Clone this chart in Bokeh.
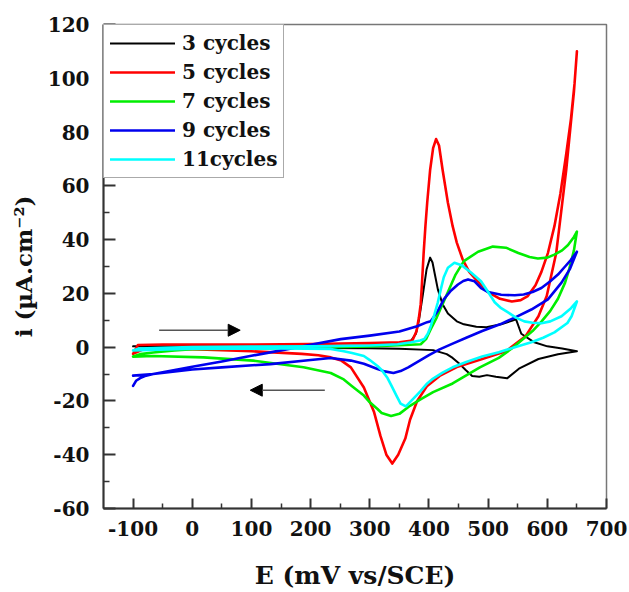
from bokeh.plotting import figure
from bokeh.models import Range1d, FixedTicker, Legend, LegendItem, Arrow, NormalHead
from bokeh.embed import file_html
from bokeh.resources import INLINE

FONT = "DejaVu Serif"

# Cyclic voltammograms: potential E (mV vs SCE) and current density i (uA/cm2)
# each loop = forward (anodic) sweep followed by the reverse sweep
labels = ["3 cycles", "5 cycles", "7 cycles", "9 cycles", "11cycles"]
colors = ["#000000", "#ff0000", "#00ee00", "#0000ee", "#00ffff"]

e3_fwd = [-100, 0, 100, 200, 300, 350, 369, 378, 383, 390, 396, 402, 406, 410, 415, 423, 432, 447, 459, 480, 497, 522, 540, 547, 556, 578, 600, 625, 650]
i3_fwd = [0.3, 0.3, 0.3, 0.4, 0.6, 1.2, 2.2, 5.0, 10.0, 20.0, 29.0, 33.3, 31.5, 27.0, 21.5, 16.0, 12.5, 9.6, 8.5, 7.6, 7.4, 8.5, 9.8, 10.4, 5.0, 1.8, 0.3, -0.5, -1.5]
e3_rev = [650, 618, 585, 552, 532, 513, 498, 485, 473, 462, 452, 440, 430, 407, 350, 300, 200, 100, 0, -100]
i3_rev = [-1.5, -2.6, -4.4, -8.0, -11.6, -11.0, -10.4, -11.0, -10.7, -8.5, -6.3, -4.0, -2.6, -1.1, -0.6, -0.4, -0.3, -0.3, -0.2, 0.3]

e5_fwd = [-100, -92, -50, 0, 100, 200, 300, 350, 372, 379, 383, 386, 388, 391, 394, 397, 402, 407, 412, 417, 423, 432, 440, 447, 457, 468, 480, 500, 520, 540, 555, 567, 580, 590, 601, 612, 622, 632, 640, 646, 650]
i5_fwd = [-2.5, 0.8, 1.0, 1.0, 1.0, 1.2, 1.5, 1.8, 2.5, 6.0, 11.0, 16.0, 23.0, 35.0, 45.0, 53.7, 66.0, 74.0, 77.4, 75.0, 66.0, 53.7, 45.0, 38.9, 32.6, 28.0, 25.0, 20.5, 18.0, 17.0, 17.5, 19.0, 23.0, 28.0, 35.0, 45.0, 57.0, 72.0, 85.0, 98.0, 110.0]
e5_rev = [650, 645, 632, 615, 599, 585, 563, 530, 490, 447, 418, 397, 380, 368, 360, 348, 338, 328, 318, 307, 290, 268, 252, 234, 213, 185, 100, 0, -80, -100]
i5_rev = [110.0, 95.0, 66.0, 35.0, 19.0, 11.5, 4.0, -1.5, -4.4, -7.4, -10.7, -14.4, -20.0, -27.0, -34.0, -40.0, -43.3, -40.0, -33.0, -24.0, -15.0, -7.5, -5.0, -3.8, -3.0, -2.5, -1.5, -0.8, -0.5, -2.5]

e7_fwd = [-100, -88, -66, -30, 0, 100, 200, 300, 360, 386, 395, 403, 413, 425, 435, 445, 459, 483, 508, 530, 551, 570, 584, 600, 612, 625, 635, 645, 650]
i7_fwd = [-3.5, -2.6, -2.0, -1.2, -0.8, -0.5, -0.2, 0.3, 0.8, 1.1, 3.0, 6.7, 11.0, 17.0, 22.0, 27.0, 32.0, 35.5, 37.4, 37.0, 35.0, 33.5, 33.0, 33.3, 34.4, 36.0, 38.0, 41.0, 43.0]
e7_rev = [650, 645, 637, 630, 618, 605, 590, 575, 559, 540, 518, 486, 463, 440, 407, 385, 368, 350, 336, 320, 313, 300, 290, 270, 256, 234, 188, 103, 19, -66, -100]
i7_rev = [43.0, 36.0, 29.0, 24.0, 18.0, 13.5, 9.5, 6.0, 3.0, -0.5, -4.0, -7.5, -10.5, -13.5, -16.7, -19.5, -21.8, -24.8, -25.6, -24.5, -23.0, -20.5, -18.0, -14.5, -12.0, -9.6, -7.5, -5.0, -3.8, -3.3, -3.5]

e9_fwd = [-100, -95, -88, -78, -66, 0, 50, 100, 150, 200, 251, 300, 350, 380, 397, 403, 415, 425, 437, 449, 458, 466, 477, 488, 500, 522, 545, 560, 575, 590, 605, 618, 630, 640, 650]
i9_fwd = [-14.4, -12.5, -11.5, -10.6, -10.0, -7.3, -5.3, -3.2, -1.2, 0.9, 3.0, 4.3, 5.8, 7.8, 9.3, 9.6, 13.5, 17.8, 21.0, 23.3, 24.6, 25.2, 24.5, 22.0, 20.5, 19.5, 19.3, 19.6, 20.5, 22.0, 24.5, 27.0, 30.0, 32.5, 35.5]
e9_rev = [650, 638, 624, 601, 573, 545, 520, 490, 463, 440, 418, 400, 380, 365, 352, 340, 325, 313, 290, 268, 234, 200, 132, 50, 0, -66, -100]
i9_rev = [35.5, 29.0, 24.0, 17.8, 14.0, 11.0, 8.5, 6.0, 3.5, 1.3, -0.8, -3.0, -5.6, -7.5, -8.9, -9.6, -9.0, -8.1, -6.2, -5.0, -4.0, -4.8, -6.3, -7.5, -8.3, -10.0, -10.6]

e11_fwd = [-100, -90, -50, 0, 100, 200, 300, 347, 370, 385, 392, 398, 403, 409, 415, 420, 425, 432, 443, 455, 471, 488, 500, 511, 522, 533, 547, 561, 575, 590, 605, 624, 640, 650]
i11_fwd = [-1.2, -0.5, -0.2, 0.0, 0.2, 0.3, 0.6, 1.1, 1.8, 2.5, 3.0, 5.0, 7.8, 12.0, 16.7, 21.5, 26.0, 29.5, 31.4, 30.5, 27.8, 24.5, 20.5, 16.7, 14.5, 13.0, 11.0, 9.6, 9.1, 8.9, 9.6, 11.5, 14.5, 17.0]
e11_rev = [650, 641, 634, 612, 593, 573, 545, 518, 490, 463, 440, 423, 405, 397, 385, 370, 361, 352, 345, 337, 330, 320, 313, 300, 290, 270, 256, 234, 150, 0, -100]
i11_rev = [17.0, 11.5, 9.0, 5.5, 3.5, 1.8, 0.0, -1.9, -3.5, -5.5, -7.5, -9.5, -12.0, -13.5, -16.5, -20.0, -22.0, -21.0, -18.0, -14.5, -11.5, -8.5, -7.0, -4.8, -3.3, -2.2, -1.5, -0.7, -0.5, -0.6, -1.2]

# axis ticks
x_ticks = [-100, 0, 100, 200, 300, 400, 500, 600, 700]
x_tick_labels = ["-100", "0", "100", "200", "300", "400", "500", "600", "700"]
x_minor = [-50, 50, 150, 250, 350, 450, 550, 650]
y_ticks = [-60, -40, -20, 0, 20, 40, 60, 80, 100, 120]
y_tick_labels = ["-60", "-40", "-20", "0", "20", "40", "60", "80", "100", "120"]
y_minor = [-50, -30, -10, 10, 30, 50, 70, 90, 110]

# sweep-direction arrows (data units): start E, end E, i
fwd_arrow = [-56, 81, 6.3]
rev_arrow = [224, 98, -16.0]

loops = [
    (e3_fwd + e3_rev, i3_fwd + i3_rev),
    (e5_fwd + e5_rev, i5_fwd + i5_rev),
    (e7_fwd + e7_rev, i7_fwd + i7_rev),
    (e9_fwd + e9_rev, i9_fwd + i9_rev),
    (e11_fwd + e11_rev, i11_fwd + i11_rev),
]

p = figure(width=629, height=592, x_range=Range1d(-150, 700), y_range=Range1d(-60, 120),
           output_backend="svg", toolbar_location=None,
           min_border_left=103, min_border_right=23, min_border_top=24, min_border_bottom=82)
p.grid.visible = False
p.outline_line_color = "#777777"
p.outline_line_width = 1.5
p.background_fill_color = "white"

renderers = []
for (ex, iy), col in zip(loops, colors):
    r = p.line(ex, iy, line_color=col, line_width=2 if col == "#000000" else 2.6,
               line_join="round", line_cap="round")
    renderers.append(r)

for ax in (p.xaxis[0], p.yaxis[0]):
    ax.axis_line_color = "#333333"
    ax.axis_line_width = 2
    ax.major_tick_line_color = "#333333"
    ax.minor_tick_line_color = "#333333"
    ax.major_tick_line_width = 2
    ax.minor_tick_line_width = 1.5
    ax.major_tick_out = 0
    ax.minor_tick_out = 0
    ax.major_label_text_font = FONT
    ax.major_label_text_font_style = "bold"
    ax.major_label_text_font_size = "20px"
    ax.major_label_text_color = "#111111"
    ax.axis_label_text_font = FONT
    ax.axis_label_text_font_style = "bold"
    ax.axis_label_text_color = "#111111"

p.xaxis.ticker = FixedTicker(ticks=x_ticks, minor_ticks=x_minor)
p.xaxis.major_label_overrides = dict(zip(x_ticks, x_tick_labels))
p.xaxis.major_tick_in = 10
p.xaxis.minor_tick_in = 5
p.xaxis.major_label_standoff = 12
p.xaxis.axis_label = "E (mV vs/SCE)"
p.xaxis.axis_label_text_font_size = "25px"
p.xaxis.axis_label_standoff = 22

p.yaxis.ticker = FixedTicker(ticks=y_ticks, minor_ticks=y_minor)
p.yaxis.major_label_overrides = dict(zip(y_ticks, y_tick_labels))
p.yaxis.major_tick_in = 12
p.yaxis.minor_tick_in = 6
p.yaxis.major_label_standoff = 14
p.yaxis.axis_label = "i (\u00b5A.cm\u207b\u00b2)"
p.yaxis.axis_label_text_font_size = "23px"
p.yaxis.axis_label_standoff = 8

for xs, xe, yy in (fwd_arrow, rev_arrow):
    p.add_layout(Arrow(end=NormalHead(size=12, fill_color="black", line_color="black"),
                       x_start=xs, y_start=yy, x_end=xe, y_end=yy,
                       line_color="#555555", line_width=1.5))

legend = Legend(items=[LegendItem(label=lab, renderers=[r]) for lab, r in zip(labels, renderers)],
                location="top_left", margin=0, padding=6, spacing=5,
                glyph_width=65, glyph_height=20, label_height=20, label_standoff=7,
                label_text_font=FONT, label_text_font_style="bold",
                label_text_font_size="20px", label_text_color="#111111",
                border_line_color="#555555", border_line_width=1.2,
                background_fill_color="white", background_fill_alpha=1.0)
p.add_layout(legend)

open("out.html", "w").write(file_html(p, INLINE))
